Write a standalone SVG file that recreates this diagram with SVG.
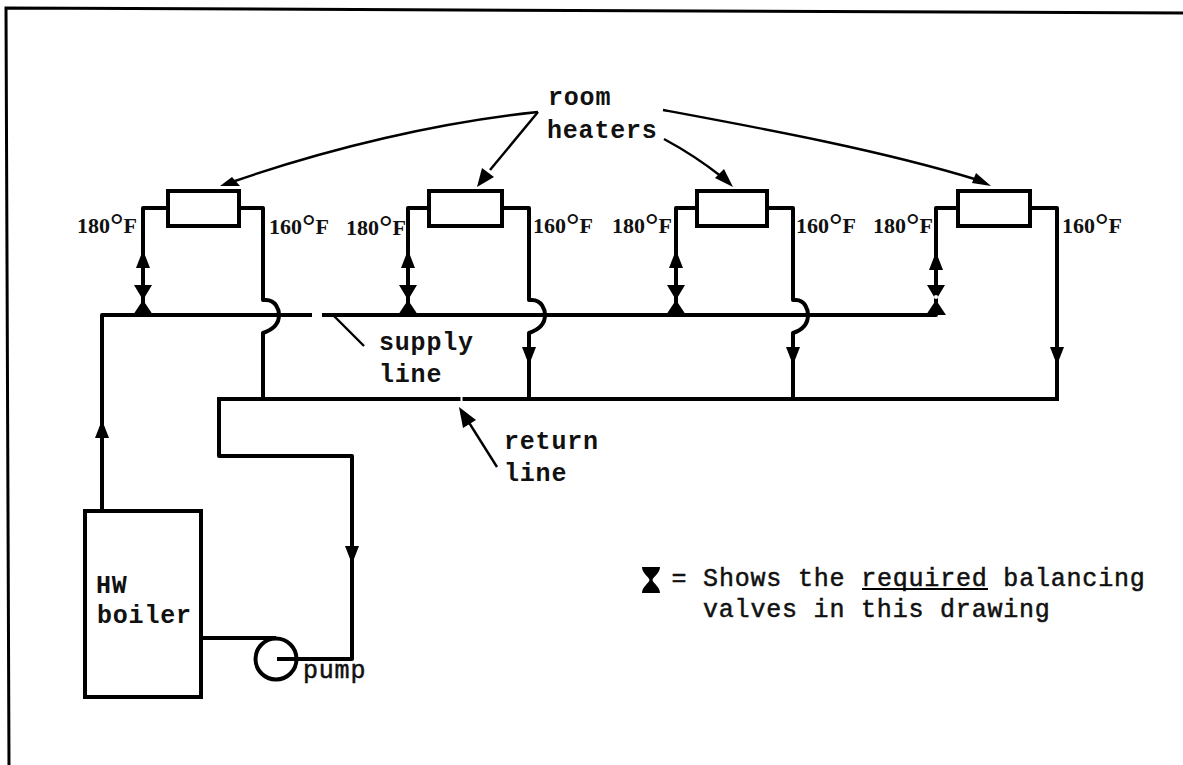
<svg xmlns="http://www.w3.org/2000/svg" width="1183" height="765" viewBox="0 0 1183 765">
<style>
.p{fill:none;stroke:#000;stroke-width:4;stroke-linejoin:round;stroke-linecap:butt}
.t{fill:none;stroke:#000;stroke-width:2.4}
.h{fill:#fff;stroke:#000;stroke-width:4}
.f{fill:#000;stroke:none}
.m{font-family:"Liberation Mono",monospace;font-size:25px;letter-spacing:0.8px;font-weight:bold;fill:#111}
.s{font-family:"Liberation Mono",monospace;font-size:25px;letter-spacing:0.8px;fill:#111;stroke:#111;stroke-width:.5px}
.d{font-family:"Liberation Serif",serif;font-size:22px;font-weight:bold;fill:#111}
.o{font-size:34px;font-weight:bold}
</style>
<defs>
<path id="up" class="f" d="M0 0L7 18H-7Z"/>
<path id="down" class="f" d="M0 0L7 -18H-7Z"/>
<path id="valve" class="f" d="M-9 0H9L0 15L10 30H-10L0 15Z"/>
</defs>
<rect x="0" y="0" width="1183" height="765" fill="#fff"/>
<g id="frame"><path d="M9 765L6 8L1183 13" fill="none" stroke="#000" stroke-width="3"/></g>
<g id="connectors">
<path class="p" d="M102 511V315H312M322 315H936V208H958"/>
<path class="p" d="M143 315V208H167"/>
<path class="p" d="M239 208H263V300H266C276 300 279 310 279 315C279 325 272 330 263 333V399"/>
<path class="p" d="M408 315V208H428"/>
<path class="p" d="M502 208H529V300H532C542 300 545 310 545 315C545 325 538 330 529 333V399"/>
<path class="p" d="M676 315V208H697"/>
<path class="p" d="M767 208H793V300H796C805 300 808 310 808 315C808 325 802 330 793 333V399"/>
<path class="p" d="M1030 208H1057V399"/>
<path class="p" d="M219 399H1059"/>
<path class="p" d="M219 397V456H352V659H277"/>
<path class="p" d="M201 638H276"/>
<use href="#up" x="102" y="420"/>
<use href="#down" x="352" y="564"/>
<use href="#up" x="143" y="250"/><use href="#up" x="408" y="250"/><use href="#up" x="676" y="250"/><use href="#up" x="936" y="252"/>
<use href="#down" x="529" y="365"/><use href="#down" x="793" y="365"/><use href="#down" x="1057" y="365"/>
<use href="#valve" x="143" y="285"/><use href="#valve" x="408" y="285"/><use href="#valve" x="676" y="285"/><use href="#valve" x="936" y="285"/>
<circle cx="936" cy="297" r="2" fill="#fff"/>
<path class="t" d="M538 112C440 122 330 148 232 182"/><path class="f" d="M220 186L232 177L240 186Z"/>
<path class="t" d="M538 112L490 170"/><path class="f" d="M477 187L482 168L494 177Z"/>
<path class="t" d="M664 139C690 153 708 166 722 177"/><path class="f" d="M733 187L715 178L724 169Z"/>
<path class="t" d="M663 110C760 128 880 150 978 180"/><path class="f" d="M991 186L972 183L976 173Z"/>
<path class="t" d="M333 315L364 346"/>
<path class="t" d="M497 467L468 421"/><path class="f" d="M459 407L476 420L463 428Z"/>
<path d="M460.5 399H462.5" stroke="#fff" stroke-width="4"/>
</g>
<g id="heater-1"><rect class="h" x="168" y="191" width="71" height="35"/></g>
<g id="heater-2"><rect class="h" x="429" y="191" width="73" height="35"/></g>
<g id="heater-3"><rect class="h" x="697" y="191" width="70" height="35"/></g>
<g id="heater-4"><rect class="h" x="958" y="191" width="72" height="35"/></g>
<g id="boiler"><rect x="85" y="511" width="116" height="186" fill="none" stroke="#000" stroke-width="4"/>
<text class="m" x="96" y="593">HW</text><text class="m" x="97" y="623">boiler</text></g>
<g id="pump"><circle cx="276" cy="659" r="20.5" fill="none" stroke="#000" stroke-width="4"/>
<text class="s" x="303" y="678">pump</text></g>
<g id="labels">
<text class="m" x="548" y="105">room</text>
<text class="m" x="547" y="138">heaters</text>
<text class="m" x="379" y="350">supply</text>
<text class="m" x="379" y="382">line</text>
<text class="m" x="504" y="449">return</text>
<text class="m" x="504" y="481">line</text>
<text class="d" x="77" y="233">180<tspan class="o" dy="3">°</tspan><tspan dy="-3">F</tspan></text>
<text class="d" x="269" y="234">160<tspan class="o" dy="3">°</tspan><tspan dy="-3">F</tspan></text>
<text class="d" x="346" y="235">180<tspan class="o" dy="3">°</tspan><tspan dy="-3">F</tspan></text>
<text class="d" x="533" y="233">160<tspan class="o" dy="3">°</tspan><tspan dy="-3">F</tspan></text>
<text class="d" x="612" y="233">180<tspan class="o" dy="3">°</tspan><tspan dy="-3">F</tspan></text>
<text class="d" x="796" y="233">160<tspan class="o" dy="3">°</tspan><tspan dy="-3">F</tspan></text>
<text class="d" x="873" y="233">180<tspan class="o" dy="3">°</tspan><tspan dy="-3">F</tspan></text>
<text class="d" x="1062" y="233">160<tspan class="o" dy="3">°</tspan><tspan dy="-3">F</tspan></text>
</g>
<g id="legend">
<path class="f" d="M642 567H660C660 573 653 577 652.5 580C653 583 660 587 660 593H642C642 587 649 583 649.5 580C649 577 642 573 642 567Z"/>
<text class="s" x="671.5" y="586">= Shows the required balancing</text>
<path d="M862 589H988" stroke="#000" stroke-width="2"/>
<text class="s" x="703" y="617">valves in this drawing</text>
</g>
</svg>
